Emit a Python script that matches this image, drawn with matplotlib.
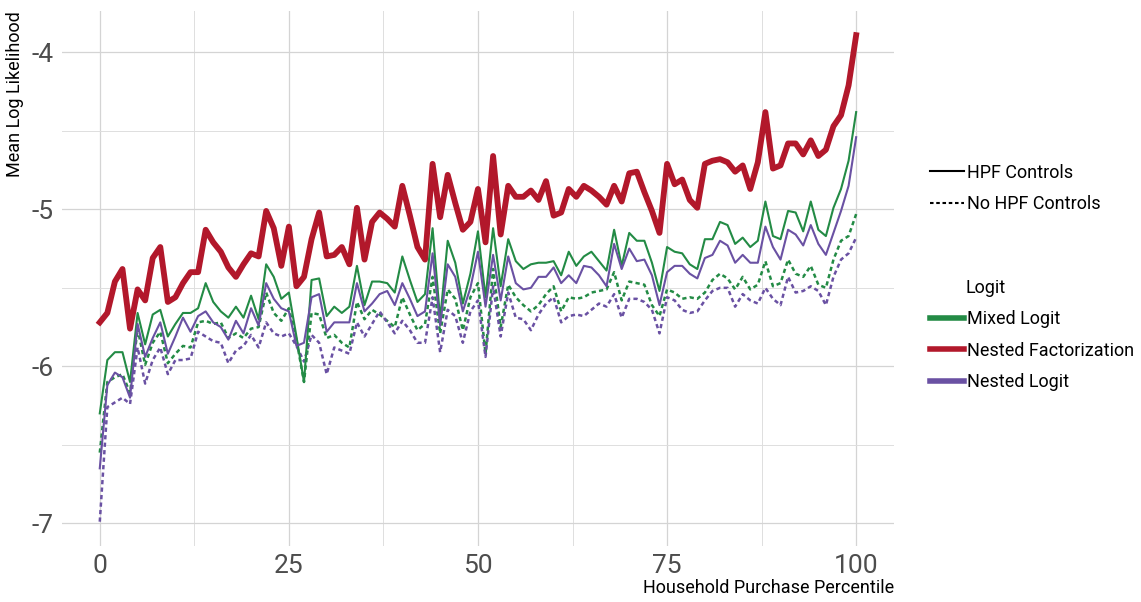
import numpy as np
import matplotlib
matplotlib.use("Agg")
import matplotlib.pyplot as plt
from matplotlib.lines import Line2D
from matplotlib.ticker import MultipleLocator

plt.rcParams['font.family'] = ['Roboto', 'DejaVu Sans']
plt.rcParams['axes.unicode_minus'] = False

# household purchase percentile
pct = np.arange(0, 101)

# Nested Factorization (HPF controls)
nf_hpf = [-5.72, -5.66, -5.46, -5.38, -5.76, -5.51, -5.58, -5.31, -5.24, -5.59,
          -5.56, -5.47, -5.40, -5.40, -5.13, -5.21, -5.27, -5.37, -5.43, -5.35,
          -5.28, -5.30, -5.01, -5.12, -5.36, -5.11, -5.49, -5.43, -5.19, -5.02,
          -5.30, -5.29, -5.24, -5.35, -4.99, -5.32, -5.08, -5.02, -5.06, -5.11,
          -4.85, -5.04, -5.24, -5.32, -4.71, -5.05, -4.78, -4.96, -5.13, -5.08,
          -4.87, -5.21, -4.66, -5.16, -4.85, -4.92, -4.92, -4.88, -4.94, -4.82,
          -5.04, -5.02, -4.87, -4.92, -4.85, -4.88, -4.92, -4.97, -4.85, -4.95,
          -4.77, -4.76, -4.89, -5.01, -5.15, -4.71, -4.84, -4.81, -4.94, -4.99,
          -4.71, -4.69, -4.68, -4.70, -4.76, -4.72, -4.87, -4.70, -4.38, -4.74,
          -4.72, -4.58, -4.58, -4.65, -4.56, -4.66, -4.62, -4.47, -4.40, -4.21, -3.89]

# Mixed Logit
ml_hpf = [-6.30, -5.96, -5.91, -5.91, -6.10, -5.66, -5.86, -5.67, -5.64, -5.81,
          -5.73, -5.66, -5.66, -5.63, -5.47, -5.59, -5.65, -5.69, -5.62, -5.69,
          -5.55, -5.70, -5.35, -5.43, -5.57, -5.53, -5.81, -6.10, -5.45, -5.44,
          -5.68, -5.62, -5.66, -5.62, -5.36, -5.61, -5.46, -5.46, -5.47, -5.53,
          -5.30, -5.45, -5.59, -5.54, -5.12, -5.70, -5.20, -5.34, -5.60, -5.41,
          -5.14, -5.56, -5.12, -5.49, -5.19, -5.33, -5.38, -5.35, -5.34, -5.34,
          -5.33, -5.42, -5.27, -5.36, -5.30, -5.27, -5.33, -5.39, -5.13, -5.36,
          -5.15, -5.20, -5.20, -5.34, -5.52, -5.24, -5.27, -5.28, -5.35, -5.38,
          -5.19, -5.19, -5.08, -5.10, -5.22, -5.18, -5.24, -5.20, -4.95, -5.17,
          -5.19, -5.01, -5.02, -5.14, -4.95, -5.13, -5.17, -4.99, -4.87, -4.69, -4.38]

ml_nohpf = [-6.55, -6.10, -6.07, -6.05, -6.17, -5.76, -5.99, -5.85, -5.78, -5.98,
            -5.92, -5.87, -5.88, -5.72, -5.71, -5.73, -5.72, -5.82, -5.79, -5.82,
            -5.76, -5.75, -5.53, -5.66, -5.71, -5.63, -5.83, -6.10, -5.66, -5.67,
            -5.82, -5.80, -5.85, -5.88, -5.59, -5.70, -5.64, -5.67, -5.71, -5.75,
            -5.56, -5.67, -5.77, -5.73, -5.43, -5.79, -5.51, -5.57, -5.77, -5.56,
            -5.47, -5.92, -5.38, -5.75, -5.48, -5.56, -5.61, -5.65, -5.61, -5.54,
            -5.49, -5.65, -5.56, -5.57, -5.56, -5.53, -5.52, -5.51, -5.40, -5.58,
            -5.46, -5.47, -5.48, -5.61, -5.68, -5.51, -5.53, -5.57, -5.56, -5.57,
            -5.53, -5.45, -5.41, -5.44, -5.51, -5.43, -5.51, -5.48, -5.33, -5.49,
            -5.47, -5.32, -5.41, -5.43, -5.36, -5.48, -5.50, -5.32, -5.20, -5.17, -5.03]

# Nested Logit
nl_hpf = [-6.65, -6.12, -6.04, -6.07, -6.20, -5.73, -5.94, -5.82, -5.72, -5.92,
          -5.81, -5.69, -5.78, -5.68, -5.65, -5.72, -5.75, -5.83, -5.71, -5.79,
          -5.63, -5.74, -5.47, -5.57, -5.63, -5.65, -5.87, -5.85, -5.56, -5.54,
          -5.78, -5.72, -5.72, -5.72, -5.47, -5.65, -5.60, -5.54, -5.52, -5.61,
          -5.47, -5.57, -5.68, -5.65, -5.28, -5.74, -5.35, -5.43, -5.65, -5.50,
          -5.27, -5.62, -5.29, -5.58, -5.30, -5.47, -5.51, -5.50, -5.43, -5.43,
          -5.37, -5.47, -5.42, -5.47, -5.36, -5.37, -5.42, -5.49, -5.22, -5.38,
          -5.25, -5.33, -5.32, -5.42, -5.61, -5.40, -5.36, -5.36, -5.41, -5.44,
          -5.31, -5.29, -5.20, -5.23, -5.34, -5.29, -5.34, -5.34, -5.11, -5.24,
          -5.32, -5.13, -5.16, -5.23, -5.10, -5.22, -5.29, -5.15, -5.01, -4.85, -4.54]

nl_nohpf = [-6.99, -6.26, -6.23, -6.20, -6.24, -5.88, -6.11, -5.96, -5.88, -6.05,
            -5.96, -5.96, -5.95, -5.78, -5.81, -5.84, -5.85, -5.98, -5.90, -5.87,
            -5.80, -5.88, -5.72, -5.79, -5.81, -5.79, -5.87, -5.97, -5.80, -5.85,
            -6.05, -5.88, -5.90, -5.92, -5.72, -5.81, -5.73, -5.65, -5.72, -5.79,
            -5.71, -5.77, -5.85, -5.85, -5.56, -5.91, -5.64, -5.68, -5.85, -5.65,
            -5.58, -5.94, -5.49, -5.81, -5.53, -5.69, -5.70, -5.77, -5.67, -5.60,
            -5.56, -5.72, -5.68, -5.67, -5.68, -5.64, -5.60, -5.62, -5.54, -5.69,
            -5.57, -5.57, -5.59, -5.64, -5.79, -5.56, -5.58, -5.64, -5.66, -5.65,
            -5.58, -5.52, -5.50, -5.50, -5.62, -5.54, -5.58, -5.60, -5.50, -5.57,
            -5.61, -5.43, -5.53, -5.52, -5.49, -5.52, -5.61, -5.43, -5.32, -5.28, -5.18]

c_ml = "#238b45"
c_nf = "#b2182b"
c_nl = "#6a51a3"
dash = (0, (1.7, 1.3))

fig = plt.figure(figsize=(11.41, 6.02), dpi=100)
ax = fig.add_axes([0.0543, 0.093, 0.7292, 0.889])

ax.plot(pct, ml_nohpf, color=c_ml, lw=1.8, linestyle=dash)
ax.plot(pct, nl_nohpf, color=c_nl, lw=1.8, linestyle=dash)
ax.plot(pct, ml_hpf, color=c_ml, lw=1.5)
ax.plot(pct, nl_hpf, color=c_nl, lw=1.5)
ax.plot(pct, nf_hpf, color=c_nf, lw=4.2)

ax.set_xlim(-5, 105)
ax.set_ylim(-7.145, -3.735)
ax.xaxis.set_major_locator(MultipleLocator(25))
ax.xaxis.set_minor_locator(MultipleLocator(12.5))
ax.yaxis.set_major_locator(MultipleLocator(1))
ax.yaxis.set_minor_locator(MultipleLocator(0.5))
ax.grid(True, which="major", color="#d4d4d4", lw=0.9)
ax.grid(True, which="minor", color="#dedede", lw=0.7)
ax.set_axisbelow(True)
for s in ax.spines.values():
    s.set_visible(False)
ax.tick_params(which="both", length=0)
ax.tick_params(axis="both", labelsize=19, labelcolor="#4d4d4d")
ax.tick_params(axis="x", pad=6)
ax.tick_params(axis="y", pad=6)

ax.set_xlabel("Household Purchase Percentile", fontsize=13, ha="right")
ax.xaxis.set_label_coords(1.0, -0.062)
ax.set_ylabel("Mean Log Likelihood", fontsize=13, ha="right")
ax.yaxis.set_label_coords(-0.046, 1.0)

h1 = [Line2D([], [], color="black", lw=1.5),
      Line2D([], [], color="black", lw=1.5, linestyle=dash)]
leg1 = fig.legend(h1, ["HPF Controls", "No HPF Controls"], loc="upper left",
                  bbox_to_anchor=(0.815, 0.728), frameon=False, fontsize=13,
                  handlelength=1.9, handletextpad=0.15, labelspacing=0.75,
                  borderaxespad=0, borderpad=0)

h2 = [Line2D([], [], color=c_ml, lw=4),
      Line2D([], [], color=c_nf, lw=4),
      Line2D([], [], color=c_nl, lw=4)]
leg2 = fig.legend(h2, ["Mixed Logit", "Nested Factorization", "Nested Logit"],
                  loc="upper left", bbox_to_anchor=(0.815, 0.485),
                  frameon=False, fontsize=13,
                  handlelength=1.9, handletextpad=0.15, labelspacing=0.75,
                  borderaxespad=0, borderpad=0)
# legend title sits over the labels, not the keys
fig.text(0.846, 1 - 288 / 602, "Logit", fontsize=13, va="center", ha="left")

fig.savefig("out.png", dpi=100)
